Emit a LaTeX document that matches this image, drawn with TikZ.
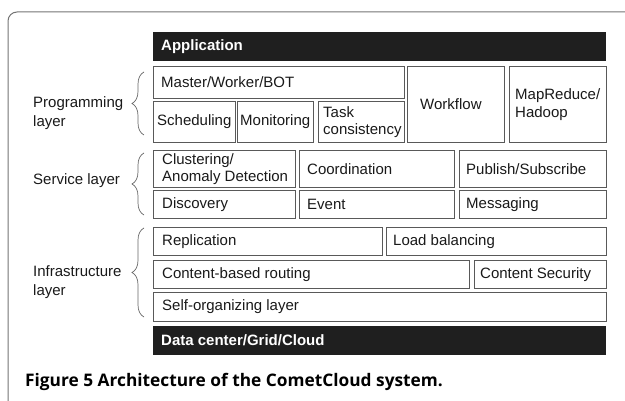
\documentclass[tikz,border=0pt]{standalone}
\usepackage{fontspec}
\setmainfont{Liberation Sans}
\newfontfamily\capfont{Open Sans}
\usetikzlibrary{decorations.pathreplacing}
\def\lft{153}
\def\rgt{606}
\def\bracex{144}
\def\labelx{33}
\tikzset{
    blk/.style={draw=black!65, line width=0.9pt, inner sep=0pt},
    bar/.style={fill=black!88, draw=none, inner sep=0pt},
    txt/.style={inner sep=0pt, align=left, text=black!90, font=\fontsize{15}{17.5}\selectfont},
    bartxt/.style={txt, text=white, font=\fontsize{15}{17.5}\selectfont\bfseries},
    brc/.style={draw=black!60, line width=0.7pt, decorate, decoration={brace, amplitude=12pt}},
    lyrlbl/.style={txt, font=\fontsize{15}{19}\selectfont},
    frm/.style={draw=black!55, line width=1pt, rounded corners=9pt}
}
% box: [text pad]{name}{x1}{y1}{x2}{y2}{text}
\newcommand{\blk}[7][8]{
    \node[blk, anchor=north west, minimum width={#5-#3}, minimum height={#6-#4}] (#2) at (#3,#4) {};
    \node[txt, anchor=west] (#2-t) at ([xshift=#1pt]#2.west) {#7};
}
\newcommand{\blackbar}[4]{
    \node[bar, anchor=north west, minimum width={\rgt-\lft}, minimum height={#4-#3}] (#1) at (\lft,#3) {};
    \node[bartxt, anchor=west] (#1-t) at ([xshift=8pt]#1.west) {#2};
}
% layer brace: {name}{top}{bottom}{label baseline}{label}
\newcommand{\lyr}[5]{
    \coordinate (#1-a) at (\bracex,#3);
    \coordinate (#1-b) at (\bracex,#2);
    \draw[brc] (#1-a) -- (#1-b);
    \node[lyrlbl, anchor=base west] (#1) at (\labelx,#4) {#5};
}

\begin{document}
\begin{tikzpicture}[x=1pt, y=-1pt]
    \useasboundingbox (0,0) rectangle (625,401);
    \begin{scope}
        \clip (0,0) rectangle (625,401);
        \draw[frm] (8,430) |- (660,12);
    \end{scope}
    \blackbar{app}{Application}{32}{61}
    % programming layer
    \blk{mwb}{\lft}{66}{404}{98}{Master/Worker/BOT}
    \blk[4]{sched}{\lft}{101}{235}{142}{Scheduling}
    \blk[3]{mon}{237}{101}{313}{142}{Monitoring}
    \blk[5]{task}{318}{101}{404}{142}{Task\\consistency}
    \blk[13]{wf}{407}{66}{504}{142}{Workflow}
    \blk[6]{mr}{509}{66}{\rgt}{142}{MapReduce/\\Hadoop}
    % service layer
    \blk[9]{clus}{\lft}{150}{295}{187}{Clustering/\\Anomaly Detection}
    \blk{coord}{299}{150}{454}{187}{Coordination}
    \blk[7]{pub}{459}{150}{\rgt}{187}{Publish/Subscribe}
    \blk[9]{disc}{\lft}{190}{295}{218}{Discovery}
    \blk{event}{299}{190}{454}{218}{Event}
    \blk[7]{msg}{459}{190}{\rgt}{218}{Messaging}
    % infrastructure layer
    \blk[9]{repl}{\lft}{227}{382}{255}{Replication}
    \blk[7]{load}{386}{227}{\rgt}{255}{Load balancing}
    \blk[9]{cbr}{\lft}{260}{469}{288}{Content-based routing}
    \blk[6]{sec}{474}{260}{\rgt}{288}{Content Security}
    \blk[9]{self}{\lft}{292}{\rgt}{321}{Self-organizing layer}
    \blackbar{dc}{Data center/Grid/Cloud}{326}{355}
    % labels: base is the last line
    \lyr{prog}{72}{135}{127}{Programming\\layer}
    \lyr{svc}{153}{215}{185}{Service layer}
    \lyr{infra}{228}{317}{296}{Infrastructure\\layer}
    \node[anchor=base west, inner sep=0pt] (cap) at (25,387)
        {\capfont\fontsize{17.3}{20}\selectfont\bfseries Figure 5 Architecture of the CometCloud system.};
\end{tikzpicture}
\end{document}
